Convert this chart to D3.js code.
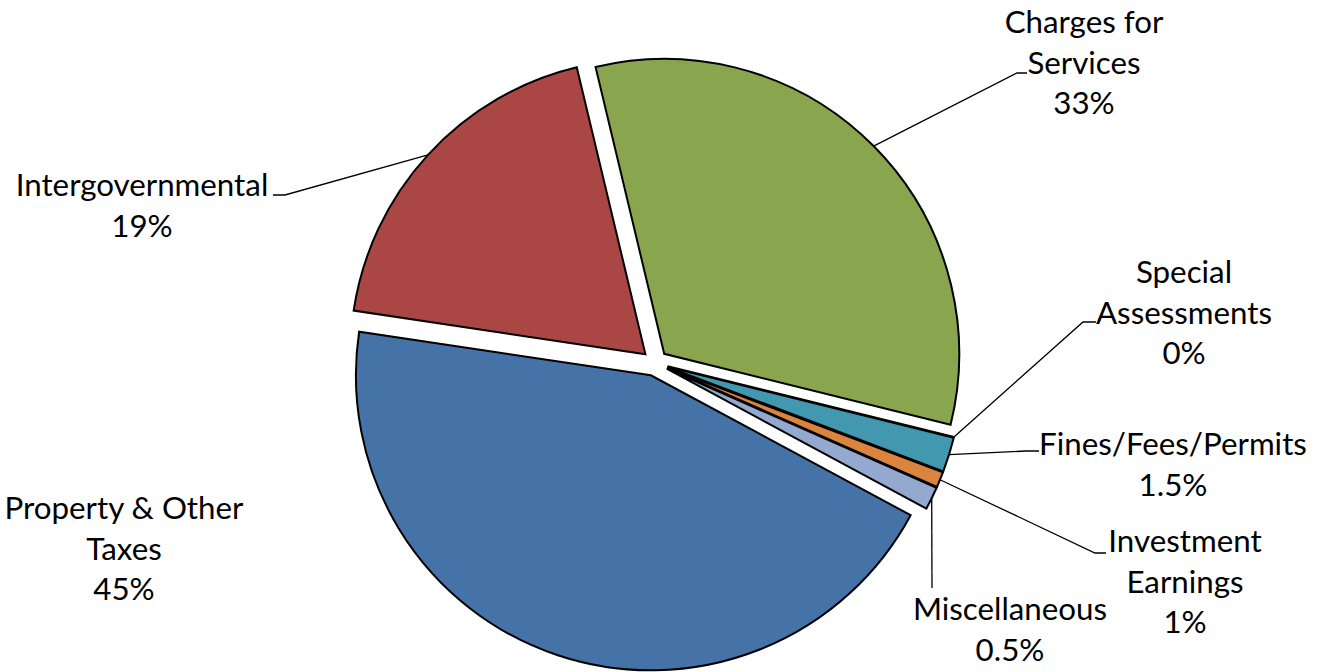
<!DOCTYPE html>
<html lang="en">
<head>
  <meta charset="UTF-8">
  <title>Revenue Sources</title>
  <style>
    body { margin: 0; background: #fff; }
    text { font-family: Lato, "Open Sans", sans-serif; font-size: 31.3px; fill: #000; }
  </style>
</head>
<body>
  <svg id="chart" width="1321" height="672"></svg>
<script src="https://cdn.jsdelivr.net/npm/d3@7"></script>
<script>
  const categories = ["Property & Other Taxes", "Intergovernmental", "Charges for Services", "Special Assessments",
                      "Fines/Fees/Permits", "Investment Earnings", "Miscellaneous"]
  const shares = [44.5, 18.9, 32.6, 0, 1.9, 0.85, 1.25]   // slice sizes as drawn
  const pctLabels = ["45%", "19%", "33%", "0%", "1.5%", "1%", "0.5%"]
  const colors = ["#4572A7", "#AA4643", "#89A54E", "#71588F", "#4198AF", "#DB843D", "#93A9CF"]

  // where each data label sits (first baseline) and where its leader line bends
  const labelLayout = {
    "Property & Other Taxes": {lines: ["Property & Other", "Taxes"], x: 124, y: 519},
    "Intergovernmental": {lines: ["Intergovernmental"], x: 142, y: 196, elbow: [285, 195], tick: [273, 195]},
    "Charges for Services": {lines: ["Charges for", "Services"], x: 1084, y: 33, elbow: [1017, 73], tick: [1027, 73]},
    "Special Assessments": {lines: ["Special", "Assessments"], x: 1184, y: 283, elbow: [1083, 322], tick: [1096, 322]},
    "Fines/Fees/Permits": {lines: ["Fines/Fees/Permits"], x: 1173, y: 455, elbow: [1026, 451], tick: [1039, 451]},
    "Investment Earnings": {lines: ["Investment", "Earnings"], x: 1185, y: 552, elbow: [1095, 553], tick: [1106, 553]},
    "Miscellaneous": {lines: ["Miscellaneous"], x: 1010, y: 620, elbow: [932, 588]}
  }

  const svg = d3.select("#chart")
  const cx = 655, cy = 363, radius = 295, explode = 13
  const lineGap = 40.5
  const start = 118.3 * Math.PI / 180

  const pie = d3.pie().sort(null).value(d => d)
                .startAngle(start).endAngle(start + 2 * Math.PI)
  const arcs = pie(shares)
  const arc = d3.arc().innerRadius(0).outerRadius(radius)

  const mid = d => (d.startAngle + d.endAngle) / 2
  const offset = d => [explode * Math.sin(mid(d)), -explode * Math.cos(mid(d))]

  let pieG = svg.append("g").attr("transform", `translate(${cx},${cy})`)

  pieG.selectAll("path")
      .data(arcs)
      .enter()
      .append("path")
      .attr("transform", d => `translate(${offset(d)})`)
      .attr("d", arc)
      .attr("fill", (d, i) => colors[i])
      .attr("stroke", "#000")
      .attr("stroke-width", 2)

  // leader lines
  arcs.forEach((d, i) => {
    let lay = labelLayout[categories[i]]
    if (!lay.elbow) return
    let o = offset(d)
    let p0 = [cx + o[0] + radius * Math.sin(mid(d)), cy + o[1] - radius * Math.cos(mid(d))]
    let pts = [p0, lay.elbow]
    if (lay.tick) pts.push(lay.tick)
    svg.append("path")
       .attr("d", d3.line()(pts))
       .attr("fill", "none")
       .attr("stroke", "#000")
       .attr("stroke-width", 1.3)
  })

  // data labels
  categories.forEach((c, i) => {
    let lay = labelLayout[c]
    let t = svg.append("text").attr("text-anchor", "middle")
    lay.lines.concat([pctLabels[i]]).forEach((s, k) => {
      t.append("tspan").attr("x", lay.x).attr("y", lay.y + k * lineGap).text(s)
    })
  })
</script>
</body>
</html>
